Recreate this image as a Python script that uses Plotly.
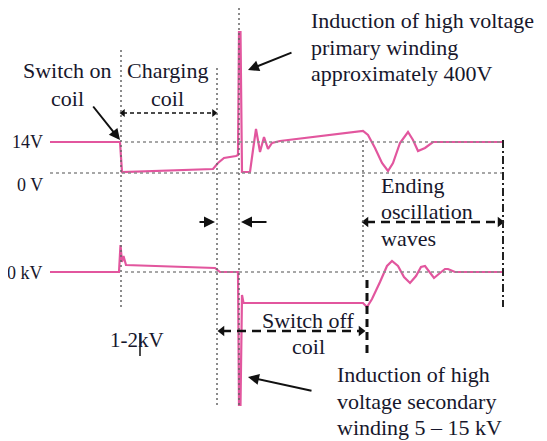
import plotly.graph_objects as go

# ---- data (diagram time units / diagram level units) ----
t_primary = [50, 120, 122, 150, 213, 218, 224, 236, 238, 239, 240.5, 242, 250, 253, 256, 260, 264, 268, 272, 280, 363,
             368, 375, 382, 388, 393, 400, 408, 413, 418, 425, 433, 503]
v_primary = [142, 142, 172, 171, 169, 163, 158, 156, 155, 32, 32, 172, 172, 150, 129, 152, 137, 149, 143, 141, 131,
             135, 148, 163, 171, 163, 143, 132, 140, 151, 148, 142, 142]

t_secondary = [50, 119, 120.5, 122, 123.5, 126, 215, 220, 238, 239, 240.5, 242, 243.5, 363, 367, 372, 380, 387, 392,
               398, 404, 410, 416, 421, 425, 430, 434, 440, 445, 448, 455, 503]
v_secondary = [272, 272, 245, 262, 256, 265, 268, 272, 272, 405, 405, 295, 303, 303, 307, 299, 282, 266, 261,
               266, 277, 283, 276, 267, 266, 273, 278, 273, 269, 269, 272, 272]

level_labels = ["14V", "0 V", "0 kV"]
level_label_y = [142, 185, 273]
ref_levels = [142, 173, 272]          # 14 V, 0 V, 0 kV
ref_levels_start = [125, 50, 125]
event_t = [121, 217, 239, 363]        # switch on, charge end, spark, switch-off end
event_top = [50, 68, 3, 140]
event_bottom = [307, 405, 405, 280]
end_t = 503

PINK = "#e2569e"
INK = "#17172c"
FONT = "Liberation Serif"
PAGE_MARGIN = 8  # browser body margin

fig = go.Figure()

# reference dotted lines
for y0, xs in zip(ref_levels, ref_levels_start):
    fig.add_shape(type="line", x0=xs, x1=end_t, y0=y0, y1=y0,
                  line=dict(color="#8a8a8a", width=1.5, dash="3px,3px"))
for x0, ya, yb in zip(event_t, event_top, event_bottom):
    fig.add_shape(type="line", x0=x0, x1=x0, y0=ya, y1=yb,
                  line=dict(color="#666666", width=1.5, dash="2px,3px"))
# black dash-dot end line & dashed switch-off line
fig.add_shape(type="line", x0=end_t, x1=end_t, y0=140, y1=307,
              line=dict(color="#222222", width=2, dash="8px,3px,2px,3px"))
fig.add_shape(type="line", x0=367, x1=367, y0=280, y1=358,
              line=dict(color="#111111", width=3, dash="8px,5px"))
# I-beam artifact near 1-2kV
fig.add_shape(type="line", x0=140, x1=140, y0=333, y1=356, line=dict(color="#111111", width=1.5))

# dashed double arrows
dash_arrows = [  # (x0, x1, y, width, dash)
    (123, 214, 113, 1.5, "4px,3px"),
    (366, 500, 222, 2.5, "9px,6px"),
    (222, 361, 331, 2.5, "9px,6px"),
]
for x0, x1, y, w, d in dash_arrows:
    fig.add_shape(type="line", x0=x0, x1=x1, y0=y, y1=y, line=dict(color="#111111", width=w, dash=d))
    fig.add_trace(go.Scatter(x=[x0, x1], y=[y, y], mode="markers", showlegend=False, hoverinfo="skip",
                             marker=dict(symbol=["triangle-left", "triangle-right"], size=9 if w > 2 else 7,
                                         color="#111111")))

# waveforms
fig.add_trace(go.Scatter(x=t_primary, y=v_primary, mode="lines", line=dict(color=PINK, width=2.2),
                         showlegend=False, hoverinfo="skip"))
fig.add_trace(go.Scatter(x=t_secondary, y=v_secondary, mode="lines", line=dict(color=PINK, width=2.2),
                         showlegend=False, hoverinfo="skip"))

# solid arrows
solid_arrows = [  # (tail x, tail y, head x, head y)
    (92, 105, 120, 140),
    (293, 52, 248, 70),
    (313, 391, 248, 377),
    (198, 222, 215, 222),
    (268, 222, 241, 222),
]
for ax, ay, x, y in solid_arrows:
    fig.add_annotation(x=x, y=y, ax=ax, ay=ay, axref="x", ayref="y", xref="x", yref="y", text="",
                       showarrow=True, arrowhead=2, arrowsize=1.1, arrowwidth=2, arrowcolor="#111111")

# texts: (lines, x, line ys, xanchor, size)
texts = [
    (["Switch on", "coil"], 67, [70, 98], "center", 22),
    (["Charging", "coil"], 167, [70, 98], "center", 22),
    (["Induction of high voltage", "primary winding", "approximately 400V"], 310, [20, 47, 73], "left", 22),
    (["Ending", "oscillation", "waves"], 380, [185, 211, 238], "left", 22),
    (["Switch off", "coil"], 308, [320, 346], "center", 22),
    (["Induction of high", "voltage secondary", "winding 5 – 15 kV"], 336, [374, 401, 427], "left", 22),
    (["1-2kV"], 137, [340], "center", 21),
]
for lines, x, ys, xa, sz in texts:
    for line, y in zip(lines, ys):
        fig.add_annotation(x=x, y=y, xref="x", yref="y", text=line, showarrow=False, xanchor=xa,
                           yanchor="middle", borderpad=0, font=dict(family=FONT, size=sz, color=INK))
for lab, y in zip(level_labels, level_label_y):
    fig.add_annotation(x=45, y=y, xref="x", yref="y", text=lab, showarrow=False, xanchor="right",
                       yanchor="middle", font=dict(family=FONT, size=18, color=INK))

fig.update_layout(width=547 - PAGE_MARGIN, height=441 - PAGE_MARGIN, margin=dict(l=0, r=0, t=0, b=0),
                  paper_bgcolor="white", plot_bgcolor="white",
                  xaxis=dict(range=[PAGE_MARGIN, 547], visible=False, fixedrange=True),
                  yaxis=dict(range=[441, PAGE_MARGIN], visible=False, fixedrange=True))

fig.write_html("out.html")
